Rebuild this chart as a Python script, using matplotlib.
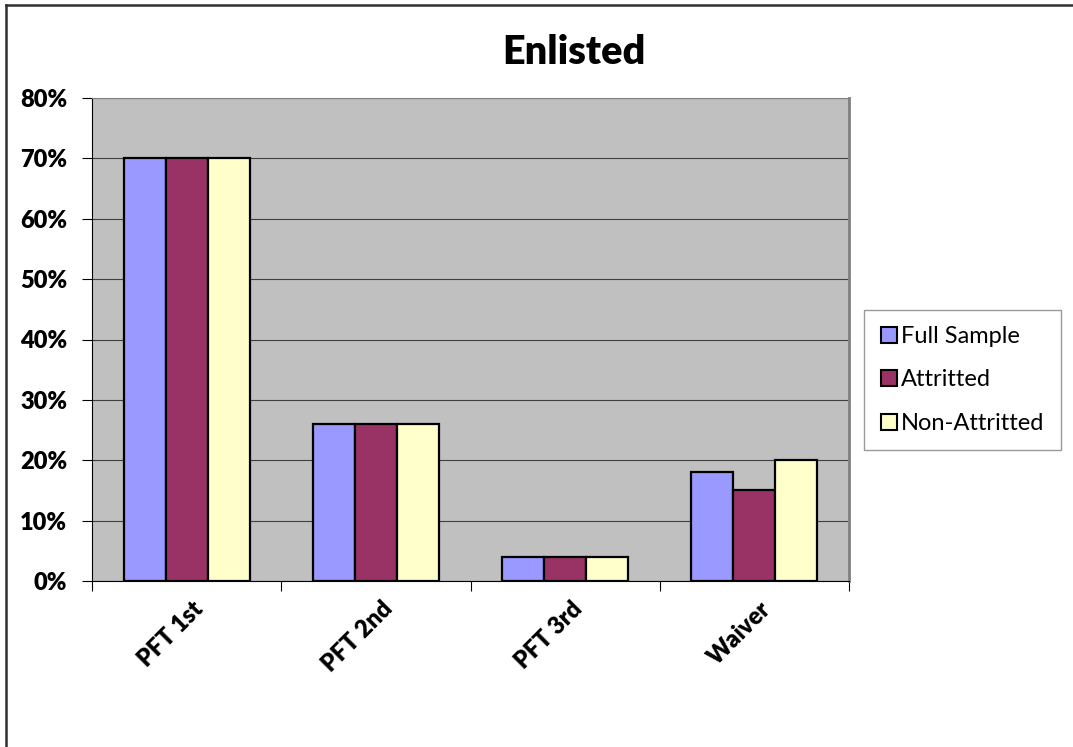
import numpy as np
import matplotlib
matplotlib.use("Agg")
import matplotlib.pyplot as plt
from matplotlib.lines import Line2D
from matplotlib.ticker import PercentFormatter

# share of each group by PFT outcome
categories = ["PFT 1st", "PFT 2nd", "PFT 3rd", "Waiver"]
full_sample = [70, 26, 4, 18]
attritted = [70, 26, 4, 15]
non_attritted = [70, 26, 4, 20]
series_names = ["Full Sample", "Attritted", "Non-Attritted"]
colors = ["#9999FF", "#993366", "#FFFFCC"]

plt.rcParams['font.family'] = ['Lato', 'DejaVu Sans']

fig = plt.figure(figsize=(10.73, 7.47), dpi=100)
ax = fig.add_axes([92/1073, 1 - 581/747, 757/1073, 483/747])
ax.set_facecolor("#C0C0C0")

x = np.arange(len(categories)) + 0.5
w = 1 / 4.5
for i, (vals, name, c) in enumerate(zip([full_sample, attritted, non_attritted], series_names, colors)):
    ax.bar(x + (i - 1) * w, vals, width=w, color=c, edgecolor="black",
           linewidth=1.6, label=name, zorder=3)

ax.set_xlim(0, len(categories))
ax.set_ylim(0, 80)
ax.set_yticks(np.arange(0, 81, 10))
ax.yaxis.set_major_formatter(PercentFormatter(decimals=0))
ax.grid(axis="y", color="#404040", linewidth=0.8, zorder=1)

# category labels at centres, tick marks at the boundaries
ax.set_xticks(x + 0.03)
ax.set_xticks(np.arange(len(categories) + 1), minor=True)
ax.set_xticklabels(categories, rotation=45, ha="right", rotation_mode="anchor",
                   fontsize=17, fontweight="heavy")
ax.tick_params(axis="x", which="major", length=0, pad=12)
ax.tick_params(axis="x", which="minor", length=7, width=0.8, direction="out")
ax.tick_params(axis="y", length=7, width=0.8, direction="out", pad=11,
               labelsize=17)
for lbl in ax.get_yticklabels():
    lbl.set_fontweight("heavy")

ax.spines["left"].set_color("black")
ax.spines["bottom"].set_color("black")
ax.spines["top"].set_color("#808080")
ax.spines["right"].set_color("#808080")
ax.spines["right"].set_linewidth(2)

fig.text(0.535, 1 - 52/747, "Enlisted", ha="center", va="center",
         fontsize=28.5, fontweight="heavy")

handles = [Line2D([], [], marker="s", linestyle="none", markersize=12,
                  markerfacecolor=c, markeredgecolor="black", markeredgewidth=1.5)
           for c in colors]
leg = fig.legend(handles, series_names, loc="center left",
                 bbox_to_anchor=(864/1073, 1 - 380/747), fontsize=17,
                 frameon=True, fancybox=False, edgecolor="#808080",
                 handlelength=0.7, handletextpad=0.15, labelspacing=0.95,
                 borderpad=0.7, borderaxespad=0)
leg.get_frame().set_linewidth(1.0)

# outer chart border on the left and top
fig.add_artist(Line2D([6/1073, 6/1073], [0, 1 - 5/747], color="#303030", linewidth=1.8))
fig.add_artist(Line2D([6/1073, 1], [1 - 5/747, 1 - 5/747], color="#303030", linewidth=1.8))

fig.savefig("out.png", dpi=100)
